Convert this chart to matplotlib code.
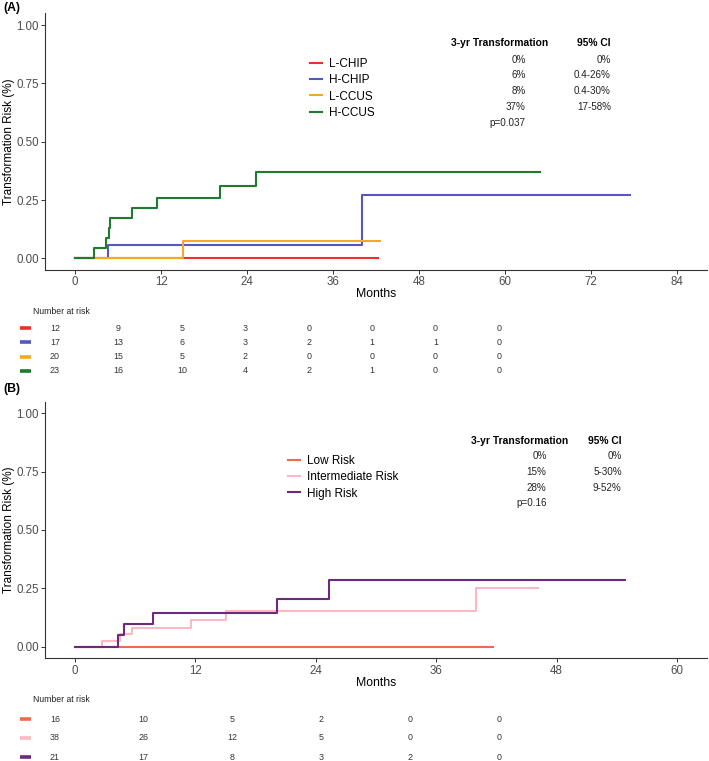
import matplotlib
matplotlib.use("Agg")
import matplotlib.pyplot as plt
from matplotlib.transforms import blended_transform_factory
from matplotlib import font_manager

plt.rcParams['font.family'] = ['Liberation Sans', 'DejaVu Sans']
_names = {f.name for f in font_manager.fontManager.ttflist}
NARROW = ['Liberation Sans Narrow', 'Liberation Sans'] if 'Liberation Sans Narrow' in _names else ['Liberation Sans']

# ---------------- Panel A data ----------------
a_groups = ["L-CHIP", "H-CHIP", "L-CCUS", "H-CCUS"]
a_colors = ["#E8322B", "#5656C0", "#F7A823", "#1F7A2E"]
a_times = [
    [0, 42.3],
    [0, 4.6, 40.0, 77.5],
    [0, 15.0, 42.6],
    [0, 2.7, 4.3, 4.7, 4.9, 7.9, 11.5, 20.2, 25.3, 64.9],
]
a_risk = [
    [0, 0],
    [0, 0.059, 0.27, 0.27],
    [0, 0.075, 0.075],
    [0, 0.043, 0.087, 0.13, 0.174, 0.217, 0.26, 0.31, 0.37, 0.37],
]
a_xticks = [0, 12, 24, 36, 48, 60, 72, 84]
a_at_risk = [
    [12, 9, 5, 3, 0, 0, 0, 0],
    [17, 13, 6, 3, 2, 1, 1, 0],
    [20, 15, 5, 2, 0, 0, 0, 0],
    [23, 16, 10, 4, 2, 1, 0, 0],
]
a_3yr = ["0%", "6%", "8%", "37%"]
a_ci = ["0%", "0.4-26%", "0.4-30%", "17-58%"]
a_p = "p=0.037"

# ---------------- Panel B data ----------------
b_groups = ["Low Risk", "Intermediate Risk", "High Risk"]
b_colors = ["#EE6A4D", "#FDB9C3", "#6B2A7C"]
b_times = [
    [0, 41.7],
    [0, 2.66, 4.5, 5.7, 11.55, 15.0, 40.0, 46.2],
    [0, 4.3, 4.9, 7.8, 20.1, 25.3, 54.8],
]
b_risk = [
    [0, 0],
    [0, 0.026, 0.053, 0.082, 0.113, 0.152, 0.25, 0.25],
    [0, 0.048, 0.095, 0.143, 0.205, 0.285, 0.285],
]
b_xticks = [0, 12, 24, 36, 48, 60]
b_at_risk = [
    [16, 10, 5, 2, 0, 0],
    [38, 26, 12, 5, 0, 0],
    [21, 17, 8, 3, 2, 0],
]
b_3yr = ["0%", "15%", "28%"]
b_ci = ["0%", "5-30%", "9-52%"]
b_p = "p=0.16"

yticks = [0.0, 0.25, 0.5, 0.75, 1.0]

W, H = 709, 761
fig = plt.figure(figsize=(W / 100, H / 100), dpi=100)


def rect(x0, y0, x1, y1):
    return [x0 / W, 1 - y1 / H, (x1 - x0) / W, (y1 - y0) / H]


def style_axes(ax, xticks, xlim):
    ax.set_xlim(*xlim)
    ax.set_ylim(-0.05, 1.05)
    ax.set_xticks(xticks)
    ax.set_yticks(yticks)
    ax.set_yticklabels([f"{v:.2f}" for v in yticks])
    for s in ["top", "right"]:
        ax.spines[s].set_visible(False)
    for s in ["left", "bottom"]:
        ax.spines[s].set_color("#333333")
        ax.spines[s].set_linewidth(0.8)
    ax.tick_params(axis="both", colors="#333333", labelcolor="#4D4D4D",
                   labelsize=8.3, length=3, width=0.7, pad=1.5)
    ax.set_ylabel("Transformation Risk (%)", fontsize=8.5, color="black")
    ax.yaxis.set_label_coords((15 - 45) / 662, 0.5)
    ax.set_xlabel("Months", fontsize=8.8, color="black", labelpad=0)


def draw_panel(ax, times, risks, colors, labels, lw=1.5):
    for t, r, c, lab in zip(times, risks, colors, labels):
        ax.step(t, r, where="post", color=c, lw=lw, label=lab)


def summary_table(ax, x_h1, x_h2, x_c1, x_c2, ys, vals1, vals2, ptxt):
    ax.text(x_h1, ys[0], "3-yr Transformation", ha="right", va="center",
            fontsize=7.4, fontweight="bold")
    ax.text(x_h2, ys[0], "95% CI", ha="right", va="center",
            fontsize=7.4, fontweight="bold")
    for i, (v1, v2) in enumerate(zip(vals1, vals2)):
        ax.text(x_c1, ys[i + 1], v1, ha="right", va="center", fontsize=7.1, color="#222222")
        ax.text(x_c2, ys[i + 1], v2, ha="right", va="center", fontsize=7.1, color="#222222")
    ax.text(x_c1, ys[len(vals1) + 1], ptxt, ha="right", va="center", fontsize=7.1, color="#222222")


def risk_table(ax, xticks, counts, colors, ylim, xlim, head_y):
    ax.set_xlim(*xlim)
    ax.set_ylim(*ylim)
    ax.axis("off")
    bt = blended_transform_factory(ax.transAxes, ax.transData)
    ax.text(33 / W, head_y, "Number at risk", transform=bt, family=NARROW,
            ha="left", va="center", fontsize=6.2, color="#222222")
    for i, (row, c) in enumerate(zip(counts, colors)):
        ax.hlines(i, 20 / W, 31 / W, transform=bt, color=c, lw=2.6)
        for xt, n in zip(xticks, row):
            ax.text(xt, i, str(n), ha="center", va="center", fontsize=6.4,
                    color="#333333", family=NARROW)


# ---------------- Panel A ----------------
axA = fig.add_axes(rect(45, 13.4, 707, 270))
draw_panel(axA, a_times, a_risk, a_colors, a_groups)
style_axes(axA, a_xticks, (-4.2, 88.2))
axA.legend(loc="upper left", bbox_to_anchor=(310 / W, 1 - 58 / H),
           bbox_transform=fig.transFigure, frameon=False, fontsize=8.5,
           handlelength=1.05, handletextpad=0.55, labelspacing=0.36, borderpad=0,
           borderaxespad=0)
ya = [(258 - py) / 233 for py in [43, 60, 75, 91, 107, 123]]
summary_table(axA, 66.1, 74.8, 62.9, 74.8, ya, a_3yr, a_ci, a_p)
fig.text(3 / W, 1 - 8 / H, "(A)", fontsize=8.8, fontweight="bold", va="center", ha="left")

# risk table A: t -> px: 55 + t*444/84
sa = 444 / 84
tabA = fig.add_axes(rect(0, 300, 709, 380))
risk_table(tabA, a_xticks, a_at_risk, a_colors,
           ((380 - 328) / 14.3, (300 - 328) / 14.3),
           (-55 / sa, (709 - 55) / sa), (311 - 328) / 14.3)

# ---------------- Panel B ----------------
axB = fig.add_axes(rect(45, 401.7, 707, 658.3))
draw_panel(axB, b_times, b_risk, b_colors, b_groups)
style_axes(axB, b_xticks, (-3, 63))
axB.legend(loc="upper left", bbox_to_anchor=(288 / W, 1 - 455 / H),
           bbox_transform=fig.transFigure, frameon=False, fontsize=8.5,
           handlelength=1.05, handletextpad=0.55, labelspacing=0.36, borderpad=0,
           borderaxespad=0)
yb = [(647 - py) / 234.3 for py in [440, 456, 472, 488, 503]]
summary_table(axB, 49.2, 54.5, 47.0, 54.5, yb, b_3yr, b_ci, b_p)
fig.text(3 / W, 1 - 389 / H, "(B)", fontsize=8.8, fontweight="bold", va="center", ha="left")

sb = 444 / 60
tabB = fig.add_axes(rect(0, 690, 709, 761))
risk_table(tabB, b_xticks, b_at_risk, b_colors,
           ((761 - 719) / 19, (690 - 719) / 19),
           (-55 / sb, (709 - 55) / sb), (699 - 719) / 19)

fig.savefig("out.png", dpi=100)
